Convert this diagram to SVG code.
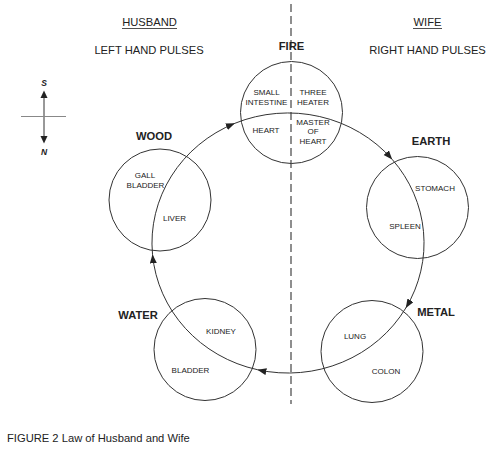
<svg xmlns="http://www.w3.org/2000/svg" width="504" height="449" viewBox="0 0 504 449">
<defs>
<style>
.t{font-family:"Liberation Sans",Arial,sans-serif;fill:#222;text-anchor:middle}
.h{font-size:11.2px}
.b{font-size:11.2px;font-weight:bold}
.s{font-size:8px}
.c{fill:none;stroke:#333;stroke-width:1}
.arc{fill:none;stroke:#333;stroke-width:1;marker-end:url(#ah)}
</style>
<marker id="ah" markerUnits="userSpaceOnUse" markerWidth="10" markerHeight="8" refX="9" refY="3.5" orient="auto">
<path d="M0,0 L9,3.5 L0,7 z" fill="#222"/>
</marker>
</defs>
<rect width="504" height="449" fill="#fff"/>
<line x1="291" y1="4" x2="291" y2="404" stroke="#444" stroke-width="1.2" stroke-dasharray="8 4"/>
<g id="headers">
<text class="t h" x="149.5" y="26">HUSBAND</text>
<line x1="122" y1="28.5" x2="177" y2="28.5" stroke="#222" stroke-width="0.8"/>
<text class="t h" x="427.5" y="26">WIFE</text>
<line x1="413" y1="28.5" x2="442" y2="28.5" stroke="#222" stroke-width="0.8"/>
<text class="t h" x="149" y="54">LEFT HAND PULSES</text>
<text class="t h" x="427.5" y="54">RIGHT HAND PULSES</text>
</g>
<g id="compass">
<line x1="44" y1="96" x2="44" y2="138" stroke="#333" stroke-width="1"/>
<line x1="21" y1="116.5" x2="66" y2="116.5" stroke="#888" stroke-width="1"/>
<polygon points="44,90.5 40.5,98 47.5,98" fill="#222"/>
<polygon points="44,143.5 40.5,136 47.5,136" fill="#222"/>
<text class="t" x="44" y="86" style="font-size:8.5px;font-weight:bold;font-style:italic">S</text>
<text class="t" x="44" y="155" style="font-size:8.5px;font-weight:bold;font-style:italic">N</text>
</g>
<g id="connectors">
<path class="arc" d="M152.5,254.3 A136 130 0 0 1 234.9,123.3"/>
<path class="arc" d="M234.9,123.3 A136 130 0 0 1 392.2,159.4"/>
<path class="arc" d="M392.2,159.4 A136 130 0 0 1 405.8,308"/>
<path class="arc" d="M405.8,308 A136 130 0 0 1 257.4,369.7"/>
<path class="arc" d="M257.4,369.7 A136 130 0 0 1 152.5,254.3"/>
</g>
<g id="fire">
<circle class="c" cx="291.5" cy="112.5" r="51"/>
<text class="t b" x="291.5" y="49.5">FIRE</text>
<text class="t s" x="266.5" y="95">SMALL</text>
<text class="t s" x="266.5" y="105">INTESTINE</text>
<text class="t s" x="313" y="95">THREE</text>
<text class="t s" x="313" y="105">HEATER</text>
<text class="t s" x="266" y="133">HEART</text>
<text class="t s" x="313" y="125">MASTER</text>
<text class="t s" x="313" y="134">OF</text>
<text class="t s" x="313" y="143.5">HEART</text>
</g>
<g id="wood">
<circle class="c" cx="160" cy="200" r="51"/>
<text class="t b" x="154" y="140">WOOD</text>
<text class="t s" x="145" y="178">GALL</text>
<text class="t s" x="145.5" y="188">BLADDER</text>
<text class="t s" x="174.5" y="221">LIVER</text>
</g>
<g id="earth">
<circle class="c" cx="417.5" cy="207.5" r="51"/>
<text class="t b" x="431" y="145">EARTH</text>
<text class="t s" x="435" y="191">STOMACH</text>
<text class="t s" x="405" y="228.5">SPLEEN</text>
</g>
<g id="water">
<circle class="c" cx="205" cy="349.5" r="51"/>
<text class="t b" x="138" y="319">WATER</text>
<text class="t s" x="221" y="334">KIDNEY</text>
<text class="t s" x="190.5" y="372.5">BLADDER</text>
</g>
<g id="metal">
<circle class="c" cx="372" cy="351.5" r="51"/>
<text class="t b" x="436" y="316">METAL</text>
<text class="t s" x="355" y="338.5">LUNG</text>
<text class="t s" x="386" y="374">COLON</text>
</g>
<text class="t h" x="7" y="441.5" style="text-anchor:start">FIGURE 2 Law of Husband and Wife</text>
</svg>
